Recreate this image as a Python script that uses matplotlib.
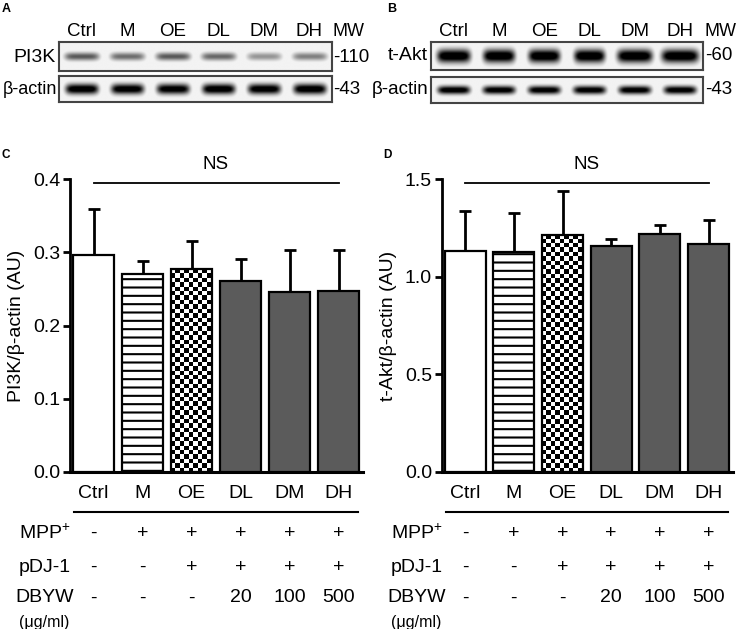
import numpy as np
import matplotlib
matplotlib.use("Agg")
import matplotlib.pyplot as plt
from matplotlib.transforms import blended_transform_factory

plt.rcParams['font.family'] = ['Liberation Sans', 'DejaVu Sans']
plt.rcParams['mathtext.fontset'] = 'custom'
plt.rcParams['mathtext.rm'] = 'Liberation Sans'
plt.rcParams['mathtext.default'] = 'regular'
plt.rcParams['hatch.linewidth'] = 1.5

# ---------------- data ----------------
groups = ["Ctrl", "M", "OE", "DL", "DM", "DH"]
mpp = ["-", "+", "+", "+", "+", "+"]
pdj = ["-", "-", "+", "+", "+", "+"]
dbyw = ["-", "-", "-", "20", "100", "500"]

pi3k_mean = [0.296, 0.271, 0.278, 0.261, 0.246, 0.247]
pi3k_err = [0.063, 0.017, 0.037, 0.030, 0.057, 0.056]
akt_mean = [1.134, 1.129, 1.213, 1.158, 1.218, 1.170]
akt_err = [0.204, 0.200, 0.229, 0.035, 0.048, 0.122]

# blot band intensities (0..1) per lane
pi3k_band = [0.55, 0.48, 0.55, 0.50, 0.35, 0.42]
actinA_band = [0.97, 0.95, 0.93, 0.97, 0.95, 0.97]
akt_band = [1.0, 1.0, 1.0, 1.0, 1.0, 1.0]
akt_bandw = [0.37, 0.35, 0.35, 0.34, 0.39, 0.41]
actinB_band = [0.95, 0.93, 0.93, 0.93, 0.93, 0.93]

W, H = 739, 629
fig = plt.figure(figsize=(W / 100, H / 100), dpi=100)


def fx(px):
    return px / W


def fy(py):
    return 1 - py / H


def blot(x0, x1, y0, y1, inten, yc_frac, sig_frac, halfw=None, hw_default=0.36):
    ax = fig.add_axes([fx(x0), fy(y1), fx(x1 - x0), (y1 - y0) / H])
    nx, ny = 600, 120
    xs = np.linspace(0, 6, nx)
    ys = np.linspace(0, 1, ny)
    X, Y = np.meshgrid(xs, ys)
    img = np.full_like(X, 0.04)
    for i, v in enumerate(inten):
        hw = hw_default if halfw is None else halfw[i]
        band = v * np.exp(-((X - (i + 0.5)) / hw) ** 6) * np.exp(-((Y - yc_frac) / sig_frac) ** 2)
        img = np.maximum(img, band)
    img = np.clip(img * 1.2, 0, 1)
    ax.imshow(img, extent=(0, 6, 0, 1), aspect='auto', cmap='gray_r', vmin=0, vmax=1,
              origin='lower', interpolation='bilinear')
    ax.set_xticks([])
    ax.set_yticks([])
    for s in ax.spines.values():
        s.set_color('#444444')
        s.set_linewidth(1.5)
    return ax


def lane_x(bx0, bx1, i):
    return bx0 + (bx1 - bx0) * (i + 0.5) / 6


# ---------- Panel A ----------
fig.text(fx(2), fy(9), "A", fontsize=9, fontweight='bold', va='center', ha='left')
blot(59, 332, 42, 71, pi3k_band, 0.5, 0.14, hw_default=0.38)
blot(59, 332, 76, 102, actinA_band, 0.5, 0.2)
for i, g in enumerate(groups):
    fig.text(fx(lane_x(59, 332, i)), fy(32), g, fontsize=13.5, ha='center', va='center')
fig.text(fx(348), fy(32), "MW", fontsize=13, ha='center', va='center')
fig.text(fx(56), fy(57), "PI3K", fontsize=14, ha='right', va='center')
fig.text(fx(57), fy(89), "β-actin", fontsize=13, ha='right', va='center')
fig.text(fx(333), fy(57), "-110", fontsize=13.5, ha='left', va='center')
fig.text(fx(333), fy(89), "-43", fontsize=13.5, ha='left', va='center')

# ---------- Panel B ----------
fig.text(fx(387), fy(9), "B", fontsize=9, fontweight='bold', va='center', ha='left')
blot(431, 703, 42, 70, akt_band, 0.5, 0.24, akt_bandw)
blot(431, 703, 77, 103, actinB_band, 0.5, 0.16)
for i, g in enumerate(groups):
    fig.text(fx(lane_x(431, 703, i)), fy(32), g, fontsize=13.5, ha='center', va='center')
fig.text(fx(720), fy(32), "MW", fontsize=13, ha='center', va='center')
fig.text(fx(428), fy(56), "t-Akt", fontsize=14, ha='right', va='center')
fig.text(fx(429), fy(90), "β-actin", fontsize=13.5, ha='right', va='center')
fig.text(fx(705), fy(56), "-60", fontsize=13.5, ha='left', va='center')
fig.text(fx(705), fy(90), "-43", fontsize=13.5, ha='left', va='center')


# ---------- bar panels ----------
def bar_panel(left_px, right_px, means, errs, ymax, ystep, ylabel, letter, letter_px):
    top_px, bot_px = 179.3, 472.0
    ax = fig.add_axes([fx(left_px), fy(bot_px), fx(right_px - left_px), (bot_px - top_px) / H])
    x = np.arange(len(means))
    ax.set_xlim(-0.48, 5.5)
    ax.set_ylim(0, ymax)
    ax.errorbar(x, means, yerr=[np.zeros(len(errs)), errs], fmt='none', ecolor='black',
                elinewidth=2, capsize=4.5, capthick=2, zorder=1)
    faces = ['white', 'white', 'none', '#5b5b5b', '#5b5b5b', '#5b5b5b']
    bars = ax.bar(x, means, width=0.84, color=faces, edgecolor='black', linewidth=1.6, zorder=3)
    bars[1].set_hatch('--')
    # checkerboard fill for OE bar
    b = bars[2]
    bx0, bw, bh = b.get_x(), b.get_width(), b.get_height()
    p0 = ax.transData.transform((bx0, 0))
    p1 = ax.transData.transform((bx0 + bw, bh))
    cell = 4.4
    ncx = max(1, int(round((p1[0] - p0[0]) / cell)))
    ncy = max(1, int(round((p1[1] - p0[1]) / cell)))
    chk = (np.add.outer(np.arange(ncy), np.arange(ncx)) % 2).astype(float)
    im = ax.imshow(chk, extent=(bx0, bx0 + ncx * cell * bw / (p1[0] - p0[0]), 0,
                                ncy * cell * bh / (p1[1] - p0[1])),
                   cmap='gray', vmin=0, vmax=1, aspect='auto', origin='lower',
                   interpolation='nearest', zorder=2)
    im.set_clip_path(b)
    ax.set_xlim(-0.48, 5.5)
    ax.set_ylim(0, ymax)

    ax.spines['top'].set_visible(False)
    ax.spines['right'].set_visible(False)
    ax.spines['left'].set_linewidth(2)
    ax.spines['bottom'].set_linewidth(2.2)
    ax.set_xticks([])
    ax.set_yticks(np.arange(0, ymax + 1e-9, ystep))
    ax.set_yticklabels([f"{v:.1f}" for v in np.arange(0, ymax + 1e-9, ystep)])
    ax.tick_params(axis='y', direction='out', length=5, width=2, labelsize=14, pad=2)
    ax.set_ylabel(ylabel, fontsize=14, labelpad=6)

    # NS line
    ax.plot([0, 5], [0.986 * ymax, 0.986 * ymax], color='black', lw=1.3, clip_on=False)
    ax.text(2.5, 1.052 * ymax, "NS", fontsize=13.5, ha='center', va='center')

    tr = blended_transform_factory(ax.transData, ax.transAxes)
    hpx = bot_px - top_px

    def ay(py):
        return (bot_px - py) / hpx

    fs = 14
    for i, g in enumerate(groups):
        ax.text(i, ay(494), g, fontsize=fs, ha='center', va='center', transform=tr)
        ax.text(i, ay(533), mpp[i], fontsize=fs, ha='center', va='center', transform=tr)
        ax.text(i, ay(567), pdj[i], fontsize=fs, ha='center', va='center', transform=tr)
        ax.text(i, ay(598), dbyw[i], fontsize=fs, ha='center', va='center', transform=tr)
    ax.plot([-0.4, 5.4], [ay(512), ay(512)], color='black', lw=1.5, transform=tr, clip_on=False)
    ax.text(-1.0, ay(533), "MPP$^{+}$", fontsize=fs, ha='center', va='center', transform=tr)
    ax.text(-1.0, ay(567), "pDJ-1", fontsize=fs, ha='center', va='center', transform=tr)
    ax.text(-1.0, ay(598), "DBYW", fontsize=fs, ha='center', va='center', transform=tr)
    ax.text(-1.0, ay(622), "(μg/ml)", fontsize=11.5, ha='center', va='center', transform=tr)

    fig.text(fx(letter_px), fy(155), letter, fontsize=8.5, fontweight='bold', ha='left', va='center')
    return ax


bar_panel(70, 363, pi3k_mean, pi3k_err, 0.4, 0.1, "PI3K/β-actin (AU)", "C", 2)
bar_panel(441.7, 733, akt_mean, akt_err, 1.5, 0.5, "t-Akt/β-actin (AU)", "D", 383)

fig.savefig("out.png", dpi=100)
